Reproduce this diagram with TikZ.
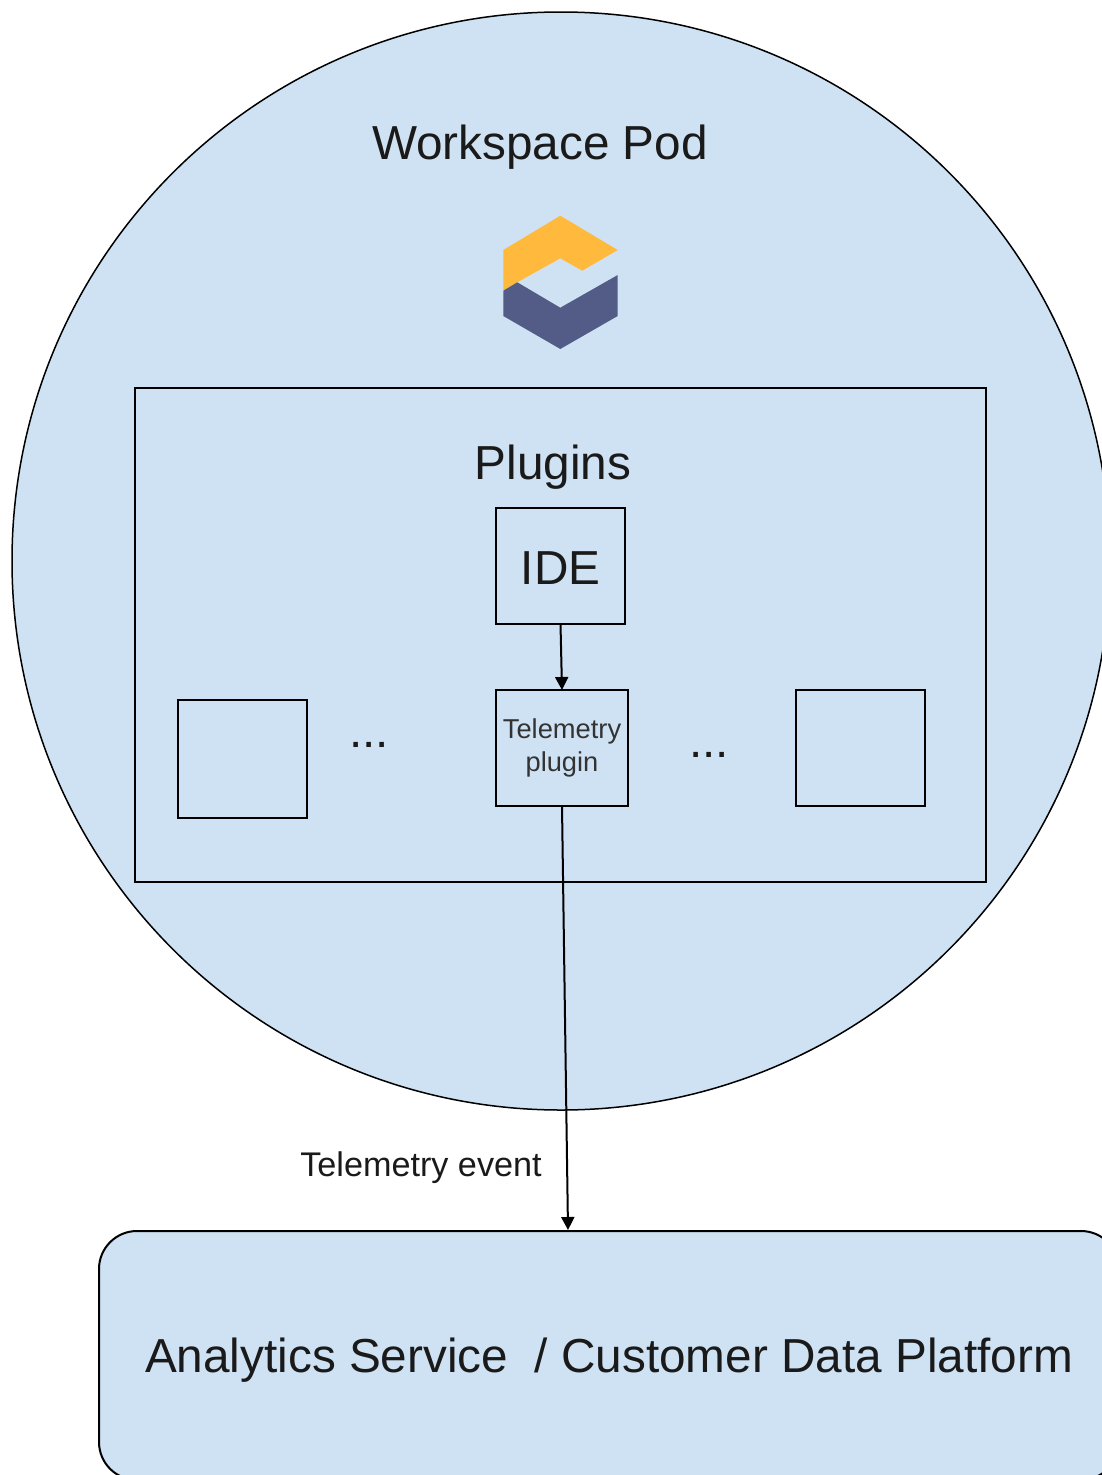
\documentclass[tikz,border=0pt]{standalone}
\usepackage{fontspec}
\setmainfont{Liberation Sans}
\usetikzlibrary{arrows.meta}
\definecolor{podblue}{HTML}{CFE2F3}
\definecolor{logoorange}{HTML}{FFB93C}
\definecolor{logoblue}{HTML}{525C86}
\definecolor{textdark}{HTML}{1A1A1A}
\definecolor{textgrey}{HTML}{333333}
\newcommand{\sizebig}{\fontsize{47.7}{56}\selectfont}
\newcommand{\sizemid}{\fontsize{34.2}{40}\selectfont}
\newcommand{\sizesmall}{\fontsize{27.3}{33}\selectfont}
\tikzset{
	box/.style={rectangle, draw, line width=2pt, outer sep=0pt, inner sep=0pt},
	label/.style={inner sep=0pt, text=textdark}
}

\begin{document}
\begin{tikzpicture}[x=1pt, y=-1pt, line width=2pt, >={Triangle[length=13pt, width=13pt]}]
	\useasboundingbox (0,0) rectangle (1102,1475);

	% Pod and service
	\node[circle, draw, fill=podblue, line width=1.5pt, outer sep=0pt, inner sep=0pt, minimum size=1098pt] (Pod) at (561,561) {};
	\node[box, fill=podblue, rounded corners=38pt, minimum width=1020pt, minimum height=249pt, text=textdark, font=\sizebig, text height=33pt, text depth=0pt] (Analytics) at (609,1355.5) {Analytics Service \ / Customer Data Platform};

	% Labels
	\node[label, font=\sizebig] (PodLabel) at (540,147) {Workspace Pod};

	% Logo
	\fill[logoorange] (503.3,250) -- (560.3,215.7) -- (617.7,250) -- (582.3,270.7) -- (560.3,258.3) -- (517.3,282.3) -- (503.3,290.7) -- cycle;
	\fill[logoblue] (503.3,290.7) -- (517.3,282.3) -- (560.3,307.7) -- (617.7,275) -- (617.7,316) -- (560.3,349) -- (503.3,316) -- cycle;

	% Plugins
	\node[box, minimum width=851pt, minimum height=494pt] (Plugins) at (560.5,635) {};
	\node[label, font=\sizebig] (PluginsLabel) at (553,467) {Plugins};
	\node[box, minimum width=129pt, minimum height=116pt, text=textdark, font=\sizebig, text height=37pt, text depth=0pt] (IDE) at (560.5,566) {IDE};
	\node[box, minimum width=132pt, minimum height=116pt, text=textgrey, align=center, font=\sizesmall] (Telemetry) at (562,748) {Telemetry\\plugin};
	\node[box, minimum width=129pt, minimum height=118pt] (PluginLeft) at (242.5,759) {};
	\node[box, minimum width=129pt, minimum height=116pt] (PluginRight) at (860.5,748) {};
	\node[label, font=\sizebig] (DotsLeft) at (369,745) {...};
	\node[label, font=\sizebig] (DotsRight) at (709,755) {...};

	% Connectors
	\coordinate (EventEnd) at (568,1230);
	\draw[->] (IDE.south) -- (Telemetry.north);
	\draw[->] (Telemetry.south) -- (EventEnd);
	\node[label, font=\sizemid] (EventLabel) at (421,1168) {Telemetry event};
\end{tikzpicture}
\end{document}
